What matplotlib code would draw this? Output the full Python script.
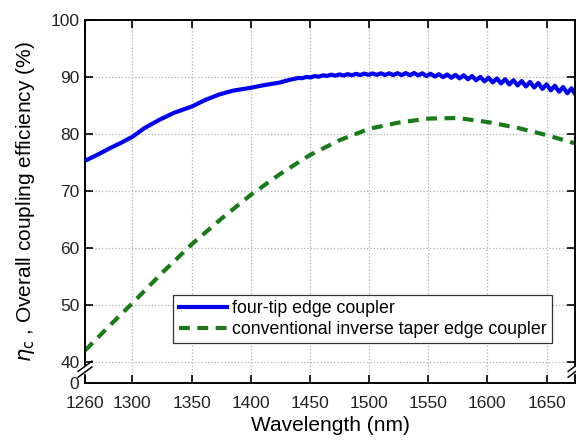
import numpy as np
import matplotlib.pyplot as plt

plt.rcParams['font.family'] = ['Liberation Sans', 'DejaVu Sans']

# four-tip edge coupler (blue), smooth part
tip_nm = [1260, 1270, 1281, 1290, 1300, 1310, 1323, 1335, 1350, 1362, 1373, 1385,
          1400, 1412, 1424, 1432]
tip_eff = [75.3, 76.3, 77.5, 78.4, 79.5, 81.0, 82.5, 83.7, 84.8, 86.0, 86.9, 87.6,
           88.1, 88.6, 89.0, 89.45]

ripple_start, ripple_step = 1440, 3.5
ripple_eff = [89.82, 89.79, 90.01, 89.91, 90.16, 90.05, 90.29, 90.18, 90.41, 90.23,
              90.45, 90.26, 90.50, 90.30, 90.55, 90.34, 90.60, 90.38, 90.63, 90.37,
              90.64, 90.35, 90.65, 90.34, 90.67, 90.33, 90.68, 90.31, 90.70, 90.28,
              90.65, 90.18, 90.57, 90.08, 90.50, 89.97, 90.44, 89.86, 90.37, 89.75,
              90.30, 89.61, 90.16, 89.43, 90.02, 89.23, 89.88, 89.05, 89.74, 88.87,
              89.59, 88.69, 89.44, 88.52, 89.29, 88.34, 89.13, 88.16, 88.94, 87.91,
              88.71, 87.65, 88.47, 87.40, 88.24, 87.14, 88.01, 86.88]

# conventional inverse taper (green)
conv_nm = [1260, 1280, 1300, 1325, 1350, 1375, 1400, 1425, 1450, 1475, 1500,
           1525, 1550, 1575, 1600, 1625, 1650, 1675]
conv_eff = [42.0, 46.2, 50.3, 55.6, 60.6, 65.1, 69.3, 73.0, 76.3, 78.9, 80.9,
            82.0, 82.7, 82.8, 82.1, 81.1, 79.8, 78.3]

xticks = [1260, 1300, 1350, 1400, 1450, 1500, 1550, 1600, 1650]
yticks = [40, 50, 60, 70, 80, 90, 100]
y_bottom = 36.3   # broken axis: bottom of the plot stands for 0

blue_x = tip_nm + list(ripple_start + ripple_step * np.arange(len(ripple_eff)))
blue_y = tip_eff + ripple_eff

fig = plt.figure(figsize=(5.76, 4.43), dpi=100)
ax = fig.add_axes([85/576, 60/443, 490/576, 363/443])

ax.plot(blue_x, blue_y, color='#0000f0', lw=3.0, label='four-tip edge coupler')
ax.plot(conv_nm, conv_eff, color='#1a7a1a', lw=3.0, ls=(0, (2.6, 1.8)),
        label='conventional inverse taper edge coupler')

ax.set_xlim(1260, 1674)
ax.set_ylim(y_bottom, 100)
ax.set_xticks(xticks)
ax.set_yticks([y_bottom] + yticks)
ax.set_yticklabels(['0'] + [str(v) for v in yticks])
ax.tick_params(direction='in', length=6, width=1.2, labelsize=12.5,
               top=True, right=True, labelcolor='#222222')
ax.tick_params(axis='x', pad=9)
ax.tick_params(axis='y', pad=4)
ax.grid(True, ls=':', color='#b0b0b0', lw=0.9)
for s in ax.spines.values():
    s.set_linewidth(1.4)

# axis break marks
for xb in (0.0, 1.0):
    ax.add_patch(plt.Rectangle((xb - 0.012, 0.028), 0.024, 0.018, transform=ax.transAxes,
                               color='white', clip_on=False, zorder=5))
    for yc in (0.030, 0.046):
        ax.plot([xb - 0.014, xb + 0.014], [yc - 0.014, yc + 0.014], color='black',
                lw=1.1, transform=ax.transAxes, clip_on=False, zorder=6)

ax.set_xlabel('Wavelength (nm)', fontsize=15, labelpad=4)
ax.set_ylabel(r'$\eta_{\rm c}$ , Overall coupling efficiency (%)', fontsize=15, labelpad=10)

leg = ax.legend(loc='lower left', bbox_to_anchor=(0.18, 0.11), fontsize=12.8,
                frameon=True, fancybox=False, edgecolor='#333333', framealpha=1,
                handlelength=2.7, labelspacing=0.2, borderpad=0.3, handletextpad=0.3,
                borderaxespad=0)
leg.get_frame().set_linewidth(0.9)

fig.savefig('out.png', dpi=100)
